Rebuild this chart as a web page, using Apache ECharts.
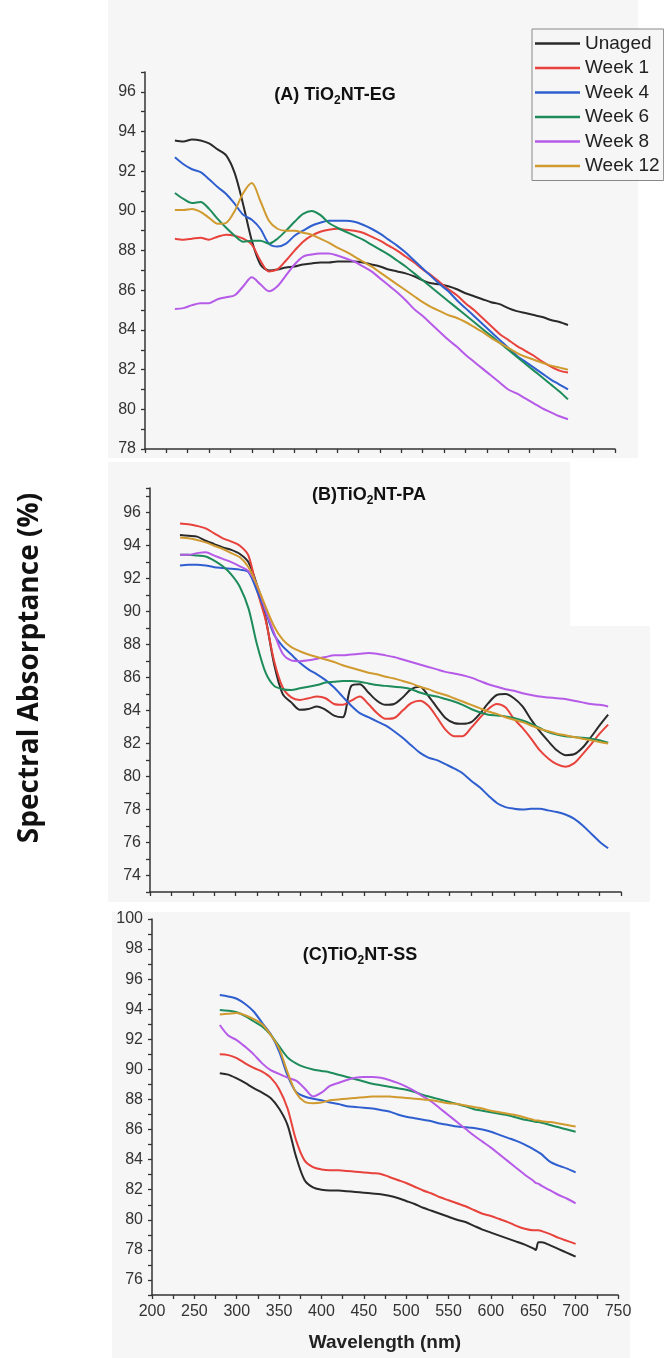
<!DOCTYPE html>
<html><head><meta charset="utf-8">
<script src="https://cdn.jsdelivr.net/npm/echarts@6/dist/echarts.min.js"></script>
<style>html,body{margin:0;padding:0;background:#fff}#c{width:664px;height:1358px}</style>
</head><body><div id="c"></div>
<script>
const seriesNames = ['Unaged','Week 1','Week 4','Week 6','Week 8','Week 12'];
const seriesColors = ['#2a2a2a','#e8423c','#2f5fcf','#1d8c5a','#b65be8','#d09a2f'];

const xTickLabels = [200,250,300,350,400,450,500,550,600,650,700,750];

// Panel A: TiO2NT-EG
const wlA = [235,245,255,265,275,285,295,305,315,325,335,345,355,365,375,385,395,405,415,425,435,445,455,465,475,485,495,505,515,525,535,545,555,565,575,585,595,605,615,625,635,645,655,665,675,685,695];
const A_unaged = [93.55,93.5,93.6,93.55,93.4,93.1,92.8,91.9,90.3,88.5,87.3,87.0,87.05,87.15,87.2,87.3,87.35,87.4,87.4,87.45,87.45,87.45,87.4,87.3,87.2,87.05,86.95,86.85,86.7,86.5,86.35,86.3,86.2,86.05,85.85,85.7,85.55,85.4,85.3,85.1,84.95,84.85,84.75,84.65,84.5,84.4,84.25];
const A_w1 = [88.6,88.55,88.6,88.65,88.55,88.7,88.8,88.75,88.6,88.3,87.5,86.95,87.05,87.5,88.0,88.45,88.75,88.95,89.05,89.1,89.05,89.0,88.9,88.7,88.5,88.25,88.0,87.7,87.4,87.05,86.75,86.4,86.05,85.75,85.35,85.0,84.6,84.2,83.8,83.5,83.2,82.95,82.7,82.4,82.15,81.95,81.85];
const A_w4 = [92.7,92.35,92.1,91.95,91.6,91.2,90.85,90.35,89.8,89.55,89.1,88.35,88.2,88.35,88.75,89.0,89.25,89.4,89.5,89.5,89.5,89.45,89.3,89.1,88.85,88.55,88.25,87.9,87.5,87.1,86.7,86.3,85.95,85.5,85.1,84.7,84.3,83.9,83.5,83.1,82.7,82.4,82.1,81.8,81.5,81.25,81.0];
const A_w6 = [90.9,90.6,90.4,90.45,90.1,89.6,89.15,88.75,88.45,88.5,88.5,88.35,88.6,89.0,89.45,89.85,90.0,89.8,89.4,89.15,88.95,88.75,88.55,88.3,88.05,87.8,87.5,87.2,86.85,86.5,86.15,85.8,85.45,85.1,84.75,84.4,84.05,83.7,83.35,83.0,82.65,82.3,81.95,81.6,81.25,80.9,80.5];
const A_w8 = [85.05,85.1,85.25,85.35,85.35,85.55,85.65,85.75,86.2,86.65,86.3,85.95,86.2,86.75,87.3,87.7,87.8,87.85,87.85,87.75,87.6,87.45,87.2,86.95,86.6,86.25,85.9,85.5,85.05,84.7,84.3,83.9,83.5,83.15,82.75,82.4,82.05,81.7,81.35,81.0,80.8,80.55,80.3,80.05,79.85,79.65,79.5];
const A_w12 = [90.05,90.05,90.1,89.95,89.65,89.35,89.4,90.0,90.9,91.4,90.5,89.5,89.1,89.0,89.0,88.9,88.8,88.6,88.4,88.15,87.95,87.7,87.45,87.2,86.9,86.6,86.3,86.0,85.7,85.4,85.15,84.95,84.75,84.6,84.4,84.15,83.9,83.6,83.35,83.1,82.85,82.65,82.5,82.35,82.2,82.1,82.0];

// Panel B: TiO2NT-PA
const wlB = [235,245,255,265,275,285,295,305,315,325,335,345,355,365,375,385,395,405,415,425,435,445,455,465,475,485,495,505,515,525,535,545,555,565,575,585,595,605,615,625,635,645,655,665,675,685,695,705,715,725,735];
const B_unaged = [94.65,94.6,94.55,94.3,94.1,93.9,93.75,93.5,93.0,91.6,89.6,86.8,85.0,84.5,84.05,84.1,84.25,84.05,83.7,83.6,85.5,85.6,85.1,84.6,84.35,84.4,84.8,85.3,85.45,84.9,84.2,83.55,83.25,83.2,83.3,83.8,84.45,84.95,85.0,84.75,84.25,83.45,82.75,82.15,81.6,81.3,81.35,81.75,82.4,83.1,83.75];
const B_w1 = [95.35,95.3,95.2,95.05,94.75,94.45,94.25,94.0,93.4,91.3,89.5,87.0,85.4,84.8,84.65,84.75,84.85,84.75,84.4,84.35,84.6,84.85,84.4,83.85,83.5,83.55,84.0,84.45,84.6,84.3,83.6,82.85,82.45,82.45,82.95,83.55,84.1,84.4,84.2,83.5,82.95,82.3,81.6,81.1,80.75,80.6,80.8,81.35,81.95,82.6,83.15];
const B_w4 = [92.8,92.85,92.85,92.8,92.7,92.65,92.6,92.55,92.4,91.25,90.0,88.6,87.9,87.4,86.9,86.5,86.2,85.85,85.4,84.85,84.3,83.85,83.6,83.35,83.1,82.75,82.35,81.9,81.45,81.15,81.0,80.75,80.5,80.2,79.75,79.35,78.85,78.4,78.15,78.05,78.0,78.05,78.05,77.95,77.85,77.7,77.45,77.05,76.55,76.05,75.65];
const B_w6 = [93.45,93.45,93.4,93.35,93.1,92.75,92.25,91.5,90.2,88.0,86.3,85.5,85.3,85.25,85.35,85.45,85.55,85.7,85.75,85.8,85.8,85.75,85.65,85.55,85.5,85.45,85.4,85.3,85.1,84.95,84.85,84.7,84.55,84.35,84.1,83.9,83.75,83.7,83.65,83.55,83.4,83.2,82.95,82.7,82.55,82.45,82.4,82.35,82.3,82.2,82.05];
const B_w8 = [93.45,93.45,93.55,93.6,93.4,93.2,93.0,92.75,92.45,91.6,90.1,88.7,87.45,87.05,87.0,87.05,87.15,87.25,87.35,87.35,87.4,87.45,87.5,87.45,87.35,87.25,87.1,86.95,86.8,86.65,86.5,86.35,86.25,86.15,86.0,85.8,85.6,85.45,85.3,85.2,85.05,84.95,84.85,84.8,84.75,84.7,84.6,84.5,84.4,84.35,84.25];
const B_w12 = [94.5,94.45,94.35,94.2,94.0,93.8,93.55,93.3,92.7,91.6,90.3,89.1,88.3,87.85,87.6,87.4,87.25,87.1,86.95,86.75,86.6,86.45,86.3,86.2,86.05,85.95,85.8,85.65,85.45,85.3,85.1,84.95,84.75,84.55,84.35,84.15,83.95,83.8,83.6,83.45,83.3,83.1,82.9,82.75,82.6,82.5,82.4,82.3,82.2,82.1,82.0];

// Panel C: TiO2NT-SS
const wlC = [280,290,300,310,320,330,340,350,360,370,380,390,400,410,420,430,440,450,460,470,480,490,500,510,520,530,540,550,560,570,580,590,600,610,620,630,640,650,653,656,660,670,680,690,700];
const C_unaged = [89.75,89.65,89.4,89.1,88.75,88.45,88.1,87.4,86.3,84.2,82.65,82.15,82.0,81.95,81.95,81.9,81.85,81.8,81.75,81.7,81.6,81.45,81.25,81.05,80.8,80.6,80.4,80.2,80.0,79.85,79.6,79.35,79.15,78.95,78.75,78.55,78.35,78.1,78.0,78.5,78.5,78.3,78.05,77.8,77.55];
const C_w1 = [91.0,90.95,90.75,90.4,90.1,89.85,89.45,88.7,87.4,85.3,83.95,83.5,83.35,83.3,83.3,83.25,83.2,83.15,83.1,83.05,82.85,82.65,82.45,82.2,81.95,81.75,81.5,81.3,81.1,80.9,80.65,80.4,80.25,80.05,79.85,79.6,79.4,79.3,79.3,79.3,79.25,79.05,78.8,78.6,78.4];
const C_w4 = [94.95,94.85,94.7,94.35,93.85,93.1,92.35,91.2,89.6,88.5,88.2,88.05,87.95,87.8,87.7,87.55,87.5,87.45,87.4,87.3,87.2,87.0,86.85,86.75,86.65,86.55,86.4,86.3,86.2,86.15,86.1,86.0,85.85,85.65,85.45,85.25,85.0,84.7,84.6,84.5,84.35,83.85,83.6,83.4,83.15];
const C_w6 = [93.95,93.9,93.8,93.55,93.2,92.85,92.3,91.55,90.8,90.4,90.15,90.0,89.9,89.8,89.65,89.5,89.35,89.2,89.05,88.95,88.85,88.75,88.65,88.5,88.3,88.15,88.0,87.85,87.7,87.55,87.35,87.25,87.15,87.05,86.95,86.8,86.65,86.55,86.5,86.5,86.45,86.3,86.15,86.0,85.85];
const C_w8 = [92.95,92.25,91.95,91.5,91.0,90.4,89.95,89.7,89.45,89.25,88.75,88.2,88.45,88.9,89.1,89.3,89.45,89.5,89.5,89.45,89.3,89.1,88.85,88.55,88.2,87.85,87.4,86.95,86.5,86.05,85.6,85.2,84.8,84.35,83.9,83.45,83.0,82.6,82.45,82.4,82.25,81.95,81.65,81.4,81.1];
const C_w12 = [93.65,93.7,93.75,93.6,93.35,93.0,92.3,91.4,89.8,88.45,87.85,87.75,87.8,87.95,88.0,88.05,88.1,88.15,88.2,88.2,88.2,88.15,88.1,88.05,88.0,87.95,87.85,87.75,87.7,87.6,87.5,87.4,87.25,87.15,87.05,86.95,86.8,86.65,86.6,86.6,86.55,86.5,86.4,86.3,86.2];

const panelTitles = [['(A) TiO','2','NT-EG'],['(B)TiO','2','NT-PA'],['(C)TiO','2','NT-SS']];
const yRanges = [[78,97],[73,97.5],[75,100]];
const yAxisTitle = 'Spectral Absorptance (%)';
const xAxisTitle = 'Wavelength (nm)';

const panels = [
  {wl: wlA, vals: [A_unaged,A_w1,A_w4,A_w6,A_w8,A_w12]},
  {wl: wlB, vals: [B_unaged,B_w1,B_w4,B_w6,B_w8,B_w12]},
  {wl: wlC, vals: [C_unaged,C_w1,C_w4,C_w6,C_w8,C_w12]}
];

const grids = [
  {left:145, top:72, width:470, height:377},
  {left:150, top:488, width:471, height:404},
  {left:152, top:919, width:466, height:376}
];
const titlePos = [[335,95],[369,495],[360,955]];

const axisColor = '#333';
const lblFont = 'Liberation Sans';

const xAxes = [], yAxes = [], series = [];
for (let p = 0; p < 3; p++) {
  xAxes.push({
    type:'value', gridIndex:p, min:xTickLabels[0], max:xTickLabels[xTickLabels.length-1], interval:25,
    axisLine:{show:true, onZero:false, lineStyle:{color:axisColor, width:1.5}},
    axisTick:{show:true, length:4, lineStyle:{color:axisColor, width:1.3}},
    axisLabel:{show:p===2, fontSize:16, color:'#333', fontFamily:lblFont, margin:9,
      formatter:v => (xTickLabels.indexOf(v) >= 0 ? String(v) : '')},
    splitLine:{show:false}
  });
  yAxes.push({
    type:'value', gridIndex:p, min:yRanges[p][0], max:yRanges[p][1], interval:1,
    axisLine:{show:true, onZero:false, lineStyle:{color:axisColor, width:1.5}},
    axisTick:{show:true, length:4, lineStyle:{color:axisColor, width:1.3}},
    axisLabel:{fontSize:16, color:'#333', fontFamily:lblFont, margin:9,
      formatter:v => (Math.abs(v % 2) < 1e-9 ? String(v) : '')},
    splitLine:{show:false}
  });
  const pn = panels[p];
  for (let s = 0; s < 6; s++) {
    series.push({
      name: seriesNames[s], type:'line', xAxisIndex:p, yAxisIndex:p,
      data: pn.wl.map((x,i) => [x, pn.vals[s][i]]),
      showSymbol:false, smooth:0.3,
      color: seriesColors[s],
      lineStyle:{width:2, color:seriesColors[s]},
      z: 3
    });
  }
}

const graphic = [
  {type:'rect', z:-10, shape:{x:108,y:0,width:530,height:458}, style:{fill:'#f6f6f6'}},
  {type:'rect', z:-10, shape:{x:108,y:462,width:462,height:440}, style:{fill:'#f6f6f6'}},
  {type:'rect', z:-10, shape:{x:570,y:626,width:80,height:276}, style:{fill:'#f6f6f6'}},
  {type:'rect', z:-10, shape:{x:112,y:912,width:518,height:446}, style:{fill:'#f6f6f6'}},
  {type:'text', x:30, y:668, rotation:Math.PI/2, z:5,
    style:{text:yAxisTitle, font:'bold 28px "Open Sans"', fill:'#111', align:'center', verticalAlign:'middle'}},
  {type:'text', x:385, y:1343, z:5,
    style:{text:xAxisTitle, font:'bold 19px "Liberation Sans"', fill:'#222', align:'center', verticalAlign:'middle'}}
];
for (let p = 0; p < 3; p++) {
  const t = panelTitles[p];
  graphic.push({type:'text', x:titlePos[p][0], y:titlePos[p][1], z:5,
    style:{text:'{t|'+t[0]+'}{s|'+t[1]+'}{t|'+t[2]+'}', align:'center', verticalAlign:'middle',
      rich:{
        t:{fontSize:18, fontWeight:'bold', fontFamily:lblFont, fill:'#111', lineHeight:24},
        s:{fontSize:12, fontWeight:'bold', fontFamily:lblFont, fill:'#111', lineHeight:12, verticalAlign:'bottom'}
      }}});
}

const chart = echarts.init(document.getElementById('c'), null, {renderer:'canvas', width:664, height:1358});
chart.setOption({
  animation:false,
  backgroundColor:'#ffffff',
  grid: grids,
  xAxis: xAxes,
  yAxis: yAxes,
  legend:{
    data: seriesNames, orient:'vertical', left:532, top:29,
    padding:[5,4,5,3], itemGap:5.5, itemWidth:45, itemHeight:2.5, icon:'rect',
    textStyle:{fontSize:19, color:'#222', fontFamily:lblFont},
    borderColor:'#888', borderWidth:1, backgroundColor:'#f6f6f6'
  },
  graphic: graphic,
  series: series
});
</script>
</body></html>
